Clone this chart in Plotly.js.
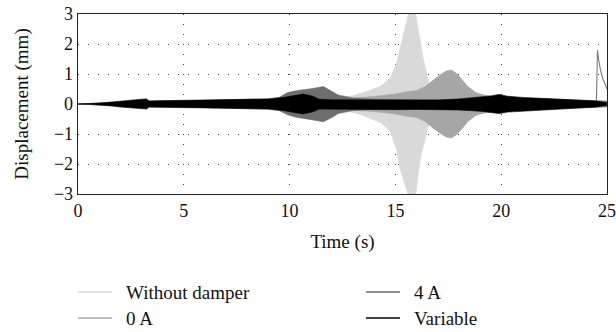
<!DOCTYPE html>
<html>
<head>
<meta charset="utf-8">
<script src="https://cdn.plot.ly/plotly-3.0.1.min.js"></script>
<style>html,body{margin:0;padding:0;background:#fff;}#chart{width:616px;height:332px;}</style>
</head>
<body>
<div id="chart"></div>
<script>
// Envelope data (upper / lower bound of the oscillating displacement, mm)
const seriesNames = ["Without damper", "0 A", "4 A", "Variable"];

const tWithout = [0, 5, 10, 11, 12, 12.5, 13, 13.3, 13.8, 14.3, 14.75, 15.06, 15.2, 15.37, 15.5, 15.65, 15.8, 15.95, 16.08, 16.2, 16.3, 16.45, 16.55, 16.7, 16.9, 17.5, 18.5, 20, 22, 25];
const upWithout = [0, 0.1, 0.15, 0.17, 0.2, 0.22, 0.28, 0.34, 0.45, 0.6, 0.85, 1.37, 1.8, 2.3, 2.75, 3.1, 3.25, 3.05, 2.47, 1.95, 1.57, 1.1, 0.8, 0.5, 0.35, 0.28, 0.22, 0.18, 0.15, 0.1];
const loWithout = [0, -0.1, -0.15, -0.17, -0.2, -0.22, -0.28, -0.34, -0.47, -0.62, -0.9, -1.53, -2.1, -2.5, -2.8, -3.15, -3.3, -3.1, -2.3, -1.75, -1.45, -1.05, -0.76, -0.5, -0.35, -0.28, -0.22, -0.18, -0.15, -0.1];

const t0A = [0, 5, 10, 12, 13, 14, 15, 15.5, 16, 16.4, 16.8, 17.1, 17.4, 17.65, 17.9, 18.2, 18.4, 18.8, 19.2, 19.6, 20, 21, 23, 25];
const up0A = [0, 0.1, 0.15, 0.17, 0.2, 0.25, 0.33, 0.4, 0.45, 0.58, 0.82, 0.97, 1.1, 1.13, 1.02, 0.78, 0.6, 0.38, 0.3, 0.25, 0.2, 0.18, 0.15, 0.1];
const lo0A = [0, -0.1, -0.15, -0.17, -0.2, -0.25, -0.33, -0.4, -0.45, -0.58, -0.82, -0.97, -1.1, -1.13, -1.02, -0.78, -0.6, -0.38, -0.3, -0.25, -0.2, -0.18, -0.15, -0.1];

const t4A = [0, 3, 6, 9, 9.5, 9.9, 10.3, 10.65, 11.1, 11.6, 12.0, 12.3, 13, 14, 16, 18, 20, 22, 24, 25];
const up4A = [0, 0.1, 0.12, 0.17, 0.22, 0.38, 0.44, 0.47, 0.52, 0.58, 0.42, 0.3, 0.2, 0.16, 0.14, 0.15, 0.2, 0.18, 0.12, 0.08];
const lo4A = [0, -0.1, -0.12, -0.17, -0.22, -0.36, -0.44, -0.48, -0.53, -0.59, -0.45, -0.32, -0.22, -0.17, -0.15, -0.16, -0.2, -0.18, -0.12, -0.08];

// 4 A transient at the end of the record
const tSpike = [24.5, 24.55, 24.6, 24.7, 24.8, 24.9, 25];
const ySpike = [0.1, 1.8, 1.5, 1.1, 0.85, 0.65, 0.5];

const tVar = [0, 0.5, 1, 1.5, 2, 2.5, 3, 3.25, 3.35, 4, 5, 6, 7, 8, 9, 9.7, 10.2, 10.65, 11.1, 11.4, 12, 13, 14, 15, 16, 17, 18, 19, 19.5, 19.9, 20.3, 21, 22, 23, 24, 24.5, 25];
const upVar = [0, 0.01, 0.03, 0.06, 0.1, 0.14, 0.16, 0.17, 0.1, 0.11, 0.12, 0.13, 0.14, 0.15, 0.17, 0.22, 0.27, 0.33, 0.26, 0.16, 0.14, 0.14, 0.14, 0.13, 0.13, 0.13, 0.17, 0.22, 0.27, 0.32, 0.26, 0.22, 0.19, 0.16, 0.12, 0.1, 0.04];
const loVar = [0, -0.01, -0.03, -0.06, -0.1, -0.14, -0.16, -0.17, -0.1, -0.11, -0.12, -0.13, -0.14, -0.15, -0.17, -0.22, -0.28, -0.33, -0.26, -0.17, -0.18, -0.19, -0.19, -0.19, -0.18, -0.18, -0.2, -0.24, -0.28, -0.32, -0.27, -0.22, -0.19, -0.16, -0.12, -0.1, -0.04];

const colors = ["#d9d9d9", "#a6a6a6", "#6e6e6e", "#000000"];

function band(t, up, lo, color) {
  const xs = t.concat(t.slice().reverse());
  const ys = up.concat(lo.slice().reverse());
  return {x: xs, y: ys, type: "scatter", mode: "lines", fill: "toself",
          fillcolor: color, line: {width: 0.6, color: color}, showlegend: false, hoverinfo: "skip"};
}

const traces = [
  band(tWithout, upWithout, loWithout, colors[0]),
  band(t0A, up0A, lo0A, colors[1]),
  band(t4A, up4A, lo4A, colors[2]),
  {x: tSpike, y: ySpike, type: "scatter", mode: "lines", line: {color: "#7a7a7a", width: 1.1}, showlegend: false},
  band(tVar, upVar, loVar, colors[3])
];

// Legend drawn below the plot (two columns), as in the reference
const W = 616, H = 332, ML = 78, MR = 9, MT = 14, MB = 138;
const PW = W - ML - MR, PH = H - MT - MB;
const px2x = p => (p - ML) / PW;
const px2y = p => (H - MB - p) / PH;
const legendSlots = [[78, 292], [78, 318], [366, 292], [366, 318]]; // per series (pixel anchors)
const fontFam = "Liberation Serif, Times New Roman, serif";
const shapes = [], annotations = [];
seriesNames.forEach((name, i) => {
  const [lx, ly] = legendSlots[i];
  shapes.push({type: "line", xref: "paper", yref: "paper",
               x0: px2x(lx), x1: px2x(lx + 34), y0: px2y(ly), y1: px2y(ly),
               line: {color: colors[i], width: 1.4}});
  annotations.push({xref: "paper", yref: "paper", x: px2x(lx + 46), y: px2y(ly),
                    xanchor: "left", yanchor: "middle", showarrow: false, text: name,
                    font: {size: 19, family: fontFam, color: "#111"}});
});

const layout = {
  width: W, height: H,
  margin: {l: ML, r: MR, t: MT, b: MB},
  paper_bgcolor: "#fff", plot_bgcolor: "#fff",
  font: {family: fontFam, size: 19, color: "#111"},
  showlegend: false,
  xaxis: {
    range: [0, 25], tickvals: [0, 5, 10, 15, 20, 25], ticks: "",
    showline: true, mirror: true, linecolor: "#222", linewidth: 1.3,
    showgrid: true, gridcolor: "#444", gridwidth: 1, griddash: "1px,9px",
    zeroline: false, tickfont: {size: 18, family: fontFam},
    title: {text: "Time (s)", font: {size: 19, family: fontFam}, standoff: 14}
  },
  yaxis: {
    range: [-3, 3], tickvals: [-3, -2, -1, 0, 1, 2, 3], ticks: "",
    showline: true, mirror: true, linecolor: "#222", linewidth: 1.3,
    showgrid: true, gridcolor: "#444", gridwidth: 1, griddash: "1px,9px",
    zeroline: false, tickfont: {size: 18, family: fontFam},
    title: {text: "Displacement (mm)", font: {size: 19, family: fontFam}, standoff: 20}
  },
  shapes: shapes,
  annotations: annotations
};

Plotly.newPlot("chart", traces, layout, {displayModeBar: false, staticPlot: true});
</script>
</body>
</html>
